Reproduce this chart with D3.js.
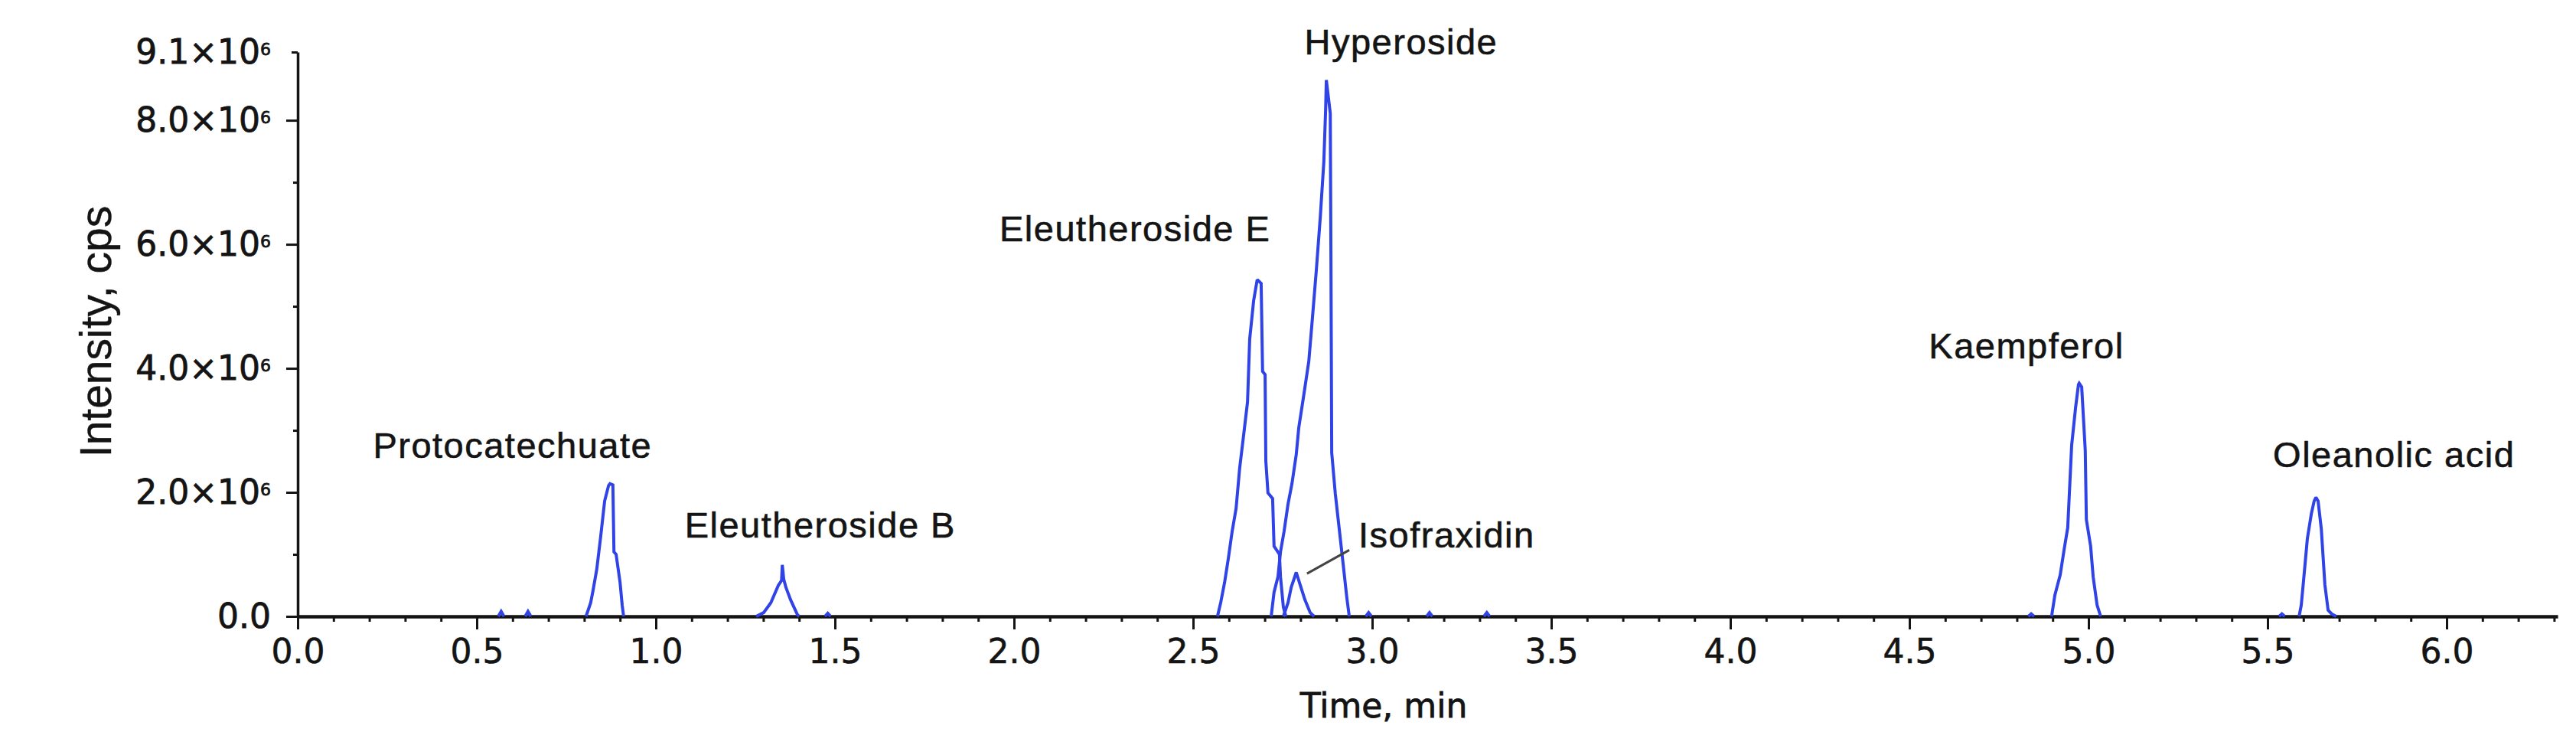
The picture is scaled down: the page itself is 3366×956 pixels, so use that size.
<!DOCTYPE html>
<html>
<head>
<meta charset="utf-8">
<script src="https://cdn.jsdelivr.net/npm/d3@7"></script>
<style>
  html, body { margin: 0; padding: 0; background: #ffffff; }
  svg { display: block; }
</style>
</head>
<body>
<svg id="chart" width="3366" height="956"></svg>
<script>
// ---------------- DATA ----------------
// time (min), intensity (cps)
const protocatechuate = [
  [0.805, 0], [0.818, 0.22e6], [0.825, 0.43e6], [0.835, 0.76e6], [0.846, 1.29e6],
  [0.857, 1.86e6], [0.868, 2.11e6], [0.872, 2.14e6], [0.880, 2.12e6], [0.883, 1.04e6],
  [0.889, 1.00e6], [0.900, 0.55e6], [0.906, 0.18e6], [0.910, 0]
];
const eleutherosideB = [
  [1.280, 0], [1.301, 0.06e6], [1.321, 0.22e6], [1.342, 0.50e6], [1.351, 0.58e6],
  [1.353, 0.83e6], [1.357, 0.60e6], [1.363, 0.47e6], [1.376, 0.27e6], [1.395, 0.03e6],
  [1.400, 0]
];
const eleutherosideE = [
  [2.568, 0], [2.577, 0.22e6], [2.588, 0.55e6], [2.598, 0.92e6], [2.609, 1.37e6],
  [2.620, 1.74e6], [2.630, 2.39e6], [2.641, 2.92e6], [2.652, 3.46e6], [2.658, 4.47e6],
  [2.669, 5.09e6], [2.679, 5.43e6], [2.690, 5.37e6], [2.694, 3.95e6], [2.701, 3.90e6],
  [2.703, 2.51e6], [2.709, 1.99e6], [2.722, 1.90e6], [2.726, 1.13e6], [2.741, 1.00e6],
  [2.744, 0.64e6], [2.752, 0.15e6], [2.759, 0]
];
const hyperoside = [
  [2.718, 0], [2.726, 0.39e6], [2.737, 0.64e6], [2.744, 1.04e6], [2.754, 1.37e6],
  [2.765, 1.81e6], [2.776, 2.14e6], [2.788, 2.61e6], [2.795, 3.04e6], [2.808, 3.53e6],
  [2.823, 4.11e6], [2.833, 4.80e6], [2.844, 5.58e6], [2.855, 6.43e6], [2.865, 7.33e6],
  [2.870, 8.17e6], [2.872, 8.65e6], [2.883, 8.11e6], [2.885, 5.58e6], [2.887, 2.64e6],
  [2.897, 1.98e6], [2.908, 1.41e6], [2.919, 0.84e6], [2.929, 0.31e6], [2.936, 0]
];
const isofraxidin = [
  [2.752, 0], [2.765, 0.22e6], [2.774, 0.47e6], [2.788, 0.71e6], [2.801, 0.47e6],
  [2.812, 0.27e6], [2.827, 0.06e6], [2.838, 0]
];
const kaempferol = [
  [4.897, 0], [4.906, 0.34e6], [4.921, 0.67e6], [4.932, 1.08e6], [4.942, 1.43e6],
  [4.953, 2.76e6], [4.964, 3.37e6], [4.972, 3.74e6], [4.974, 3.76e6], [4.981, 3.70e6],
  [4.991, 2.67e6], [4.994, 1.56e6], [5.006, 1.13e6], [5.013, 0.64e6], [5.024, 0.18e6],
  [5.034, 0]
];
const oleanolicAcid = [
  [5.588, 0], [5.594, 0.18e6], [5.600, 0.55e6], [5.611, 1.25e6], [5.622, 1.65e6],
  [5.630, 1.86e6], [5.635, 1.92e6], [5.641, 1.86e6], [5.650, 1.41e6], [5.660, 0.51e6],
  [5.669, 0.10e6], [5.679, 0.04e6], [5.692, 0]
];
// small baseline blips
const noiseBlips = [
  [[0.560, 0], [0.568, 0.08e6], [0.576, 0]],
  [[0.635, 0], [0.643, 0.08e6], [0.651, 0]],
  [[1.472, 0], [1.480, 0.05e6], [1.488, 0]],
  [[2.982, 0], [2.990, 0.06e6], [2.998, 0]],
  [[3.152, 0], [3.160, 0.06e6], [3.168, 0]],
  [[3.312, 0], [3.320, 0.06e6], [3.328, 0]],
  [[4.832, 0], [4.840, 0.04e6], [4.848, 0]],
  [[5.532, 0], [5.540, 0.04e6], [5.548, 0]]
];

const peakNames = ["Protocatechuate", "Eleutheroside B", "Eleutheroside E", "Hyperoside",
                   "Isofraxidin", "Kaempferol", "Oleanolic acid"];
const labelTimes = [0.600, 1.459, 2.338, 3.081, 3.208, 4.827, 5.853];
const labelIntensities = [2.56e6, 1.27e6, 6.05e6, 9.06e6, 1.11e6, 4.16e6, 2.41e6];
// leader line for Isofraxidin: [time, intensity] endpoints
const isofraxidinLeader = [[2.936, 1.07e6], [2.818, 0.69e6]];

const xMajorTicks = [0.0, 0.5, 1.0, 1.5, 2.0, 2.5, 3.0, 3.5, 4.0, 4.5, 5.0, 5.5, 6.0];
const xMinorTicks = d3.range(1, 64).map(i => i / 10).filter(v => Math.abs(v * 2 - Math.round(v * 2)) > 1e-6);
const yMajorTicks = [0, 2e6, 4e6, 6e6, 8e6];
const yMinorTicks = [1e6, 3e6, 5e6, 7e6];
const yTopTick = 9.1e6;
const xMax = 6.31;

const xTitle = "Time, min";
const yTitle = "Intensity, cps";

// ---------------- CHART ----------------
const svg = d3.select("#chart");
svg.append("rect").attr("width", 3366).attr("height", 956).attr("fill", "#ffffff");

const x = d3.scaleLinear().domain([0, xMax]).range([389, 389 + xMax * 468]);
const y = d3.scaleLinear().domain([0, yTopTick]).range([805, 68]);

const ink = "#141414";
const tickFont = "DejaVu Sans, Verdana, sans-serif";
const labelFont = "Liberation Sans, Arial, sans-serif";

function heavy(sel, w) {
  sel.attr("stroke", ink).attr("stroke-width", w).attr("paint-order", "stroke");
}

// X axis (major)
const gx = svg.append("g").attr("transform", `translate(0,${y(0)})`)
  .call(d3.axisBottom(x).tickValues(xMajorTicks).tickSize(17).tickSizeOuter(0)
    .tickPadding(13).tickFormat(d3.format(".1f")));
gx.select(".domain").attr("stroke", ink).attr("stroke-width", 4.5);
gx.selectAll(".tick line").attr("stroke", ink).attr("stroke-width", 3);
gx.selectAll(".tick text").attr("font-family", tickFont).attr("font-size", 44).attr("fill", ink)
  .call(heavy, 0.6);

// X axis (minor)
const gxm = svg.append("g").attr("transform", `translate(0,${y(0)})`)
  .call(d3.axisBottom(x).tickValues(xMinorTicks).tickSize(7).tickSizeOuter(0).tickFormat(""));
gxm.select(".domain").remove();
gxm.selectAll(".tick line").attr("stroke", ink).attr("stroke-width", 3);

// Y axis (major)
const gy = svg.append("g").attr("transform", `translate(${x(0)},0)`)
  .call(d3.axisLeft(y).tickValues(yMajorTicks).tickSize(15).tickSizeOuter(0).tickPadding(20));
gy.select(".domain").attr("stroke", ink).attr("stroke-width", 3.5);
gy.selectAll(".tick line").attr("stroke", ink).attr("stroke-width", 3);

function sciLabel(d) {
  const t = d3.select(this);
  t.text(null).attr("font-family", tickFont).attr("font-size", 44).attr("fill", ink)
    .attr("stroke", ink).attr("stroke-width", 0.8).attr("paint-order", "stroke");
  if (d === 0) { t.text("0.0"); return; }
  t.append("tspan").text(d3.format(".1f")(d / 1e6) + "\u00D710");
  t.append("tspan").attr("font-size", 22).attr("dy", -11).text("6");
}
gy.selectAll(".tick text").each(sciLabel);

// Y axis (minor)
const gym = svg.append("g").attr("transform", `translate(${x(0)},0)`)
  .call(d3.axisLeft(y).tickValues(yMinorTicks).tickSize(6).tickSizeOuter(0).tickFormat(""));
gym.select(".domain").remove();
gym.selectAll(".tick line").attr("stroke", ink).attr("stroke-width", 3);

// Y axis top tick (max intensity)
const gyt = svg.append("g").attr("transform", `translate(${x(0)},0)`)
  .call(d3.axisLeft(y).tickValues([yTopTick]).tickSize(8).tickSizeOuter(0).tickPadding(27));
gyt.select(".domain").remove();
gyt.selectAll(".tick line").attr("stroke", ink).attr("stroke-width", 3);
gyt.selectAll(".tick text").each(sciLabel);

// Axis titles
svg.append("text").attr("x", 1808).attr("y", 937).attr("text-anchor", "middle")
  .attr("font-family", tickFont).attr("font-size", 44).attr("fill", ink).call(heavy, 0.8)
  .text(xTitle);
svg.append("text").attr("transform", "translate(145,433) rotate(-90)").attr("text-anchor", "middle")
  .attr("font-family", labelFont).attr("font-size", 57).attr("fill", ink).call(heavy, 0.4)
  .text(yTitle);

// Traces
const line = d3.line().x(d => x(d[0])).y(d => y(d[1]));
const traces = [protocatechuate, eleutherosideB, eleutherosideE, hyperoside, isofraxidin,
                kaempferol, oleanolicAcid, ...noiseBlips];
svg.append("g").selectAll("path").data(traces).join("path")
  .attr("d", line).attr("fill", "none").attr("stroke", "#2f43e6")
  .attr("stroke-width", 4).attr("stroke-linejoin", "miter").attr("stroke-miterlimit", 2);

// Peak labels
svg.append("g").selectAll("text").data(peakNames).join("text")
  .attr("x", (d, i) => x(labelTimes[i])).attr("y", (d, i) => y(labelIntensities[i]))
  .attr("text-anchor", "middle")
  .attr("font-family", labelFont).attr("font-size", 47)
  .attr("letter-spacing", 1.5).attr("fill", ink).call(heavy, 0.6).text(d => d);

// Leader line
svg.append("path").attr("d", line(isofraxidinLeader)).attr("stroke", "#444")
  .attr("stroke-width", 3).attr("fill", "none");
</script>
</body>
</html>
